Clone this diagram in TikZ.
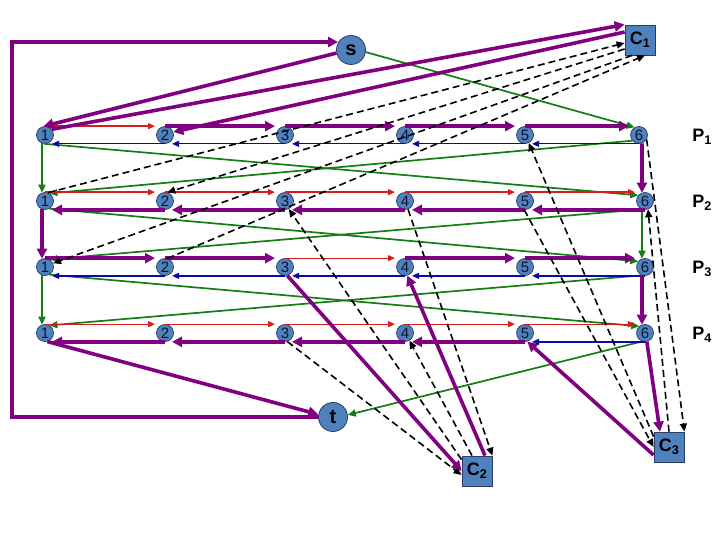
\documentclass[tikz,border=0pt]{standalone}
\usepackage{fontspec}
\setmainfont{Liberation Sans}
\usetikzlibrary{arrows.meta}
\definecolor{pur}{RGB}{128,0,128}
\definecolor{grn}{RGB}{20,125,20}
\definecolor{rd}{RGB}{215,30,30}
\definecolor{bl}{RGB}{10,10,170}
\definecolor{nfill}{RGB}{79,129,189}
\definecolor{nline}{RGB}{40,60,100}
\definecolor{ntext}{RGB}{15,20,45}
\begin{document}
\begin{tikzpicture}[x=1pt,y=-1pt,
  vx/.style={circle,fill=nfill,draw=nline,line width=0.7pt,minimum size=17pt,inner sep=0pt,text=ntext,font=\fontsize{15}{15}\selectfont},
  big/.style={circle,fill=nfill,draw=nline,line width=0.8pt,minimum size=29pt,inner sep=0pt,font=\fontsize{20}{20}\selectfont\bfseries},
  cl/.style={rectangle,fill=nfill,draw=nline,line width=0.8pt,minimum width=30pt,minimum height=30pt,inner sep=0pt,font=\fontsize{18}{18}\selectfont\bfseries},
  plab/.style={font=\fontsize{18}{18}\selectfont\bfseries,inner sep=0pt},
  pth/.style={draw=pur,line width=3.6pt,-{Triangle[length=10pt,width=10pt]}},
  grl/.style={draw=grn,line width=1.7pt,-{Triangle[length=8pt,width=7pt]}},
  redl/.style={draw=rd,line width=1.3pt,-{Triangle[length=7pt,width=6pt]}},
  bll/.style={draw=bl,line width=1.3pt,-{Triangle[length=7pt,width=6pt]}},
  dsh/.style={draw=black,line width=1.6pt,dash pattern=on 7pt off 4pt,-{Triangle[length=8pt,width=7pt]}}
]
\useasboundingbox (0,0) rectangle (720,540);
% nodes
\node[big] (s) at (351,50) {s};
\node[big] (t) at (333,417) {t};
\node[cl] (C1) at (640,40) {C\textsubscript{1}};
\node[cl] (C2) at (477,471) {C\textsubscript{2}};
\node[cl] (C3) at (669,447) {C\textsubscript{3}};
\foreach \r/\y in {1/135,2/201,3/267,4/333}{
  \foreach \c/\x in {1/45,2/165,3/285,4/405,5/525}{
    \node[vx] (n\r\c) at (\x,\y) {\c};
  }
}
\node[vx] (n16) at (639,135) {6};
\node[vx] (n26) at (645,201) {6};
\node[vx] (n36) at (645,267) {6};
\node[vx] (n46) at (645,333) {6};
\node[plab] (l1) at (702,137) {P\textsubscript{1}};
\node[plab] (l2) at (702,203) {P\textsubscript{2}};
\node[plab] (l3) at (702,269) {P\textsubscript{3}};
\node[plab] (l4) at (702,335) {P\textsubscript{4}};
\coordinate (lc) at (12,42);

% green edges
\draw[grl] (s.-8) -- (n16.120);
\draw[grl] (n11.250) -- (n21.110);
\draw[grl] (n26.250) -- (n36.110);
\draw[grl] (n31.250) -- (n41.110);
\draw[grl] (n11.-95) -- (n26.140);
\draw[grl] (n16.220) -- (n21.60);
\draw[grl] (n21.-60) -- (n36.140);
\draw[grl] (n26.-110) -- (n31.60);
\draw[grl] (n31.-60) -- (n46.130);
\draw[grl] (n36.-110) -- (n41.60);
\draw[grl] (n46.252) -- (t.8);

% top lanes
\draw[redl] (n11.north) -- ([xshift=-10pt]n12.north);
\draw[pth] (n12.north) -- ([xshift=-10pt]n13.north);
\draw[pth] (n13.north) -- ([xshift=-10pt]n14.north);
\draw[pth] (n14.north) -- ([xshift=-10pt]n15.north);
\draw[pth] (n15.north) -- ([xshift=-10pt]n16.north);
\draw[redl] (n21.north) -- ([xshift=-10pt]n22.north);
\draw[redl] (n22.north) -- ([xshift=-10pt]n23.north);
\draw[redl] (n23.north) -- ([xshift=-10pt]n24.north);
\draw[redl] (n24.north) -- ([xshift=-10pt]n25.north);
\draw[redl] (n25.north) -- ([xshift=-10pt]n26.north);
\draw[pth] (n31.north) -- ([xshift=-10pt]n32.north);
\draw[pth] (n32.north) -- ([xshift=-10pt]n33.north);
\draw[redl] (n33.north) -- ([xshift=-10pt]n34.north);
\draw[pth] (n34.north) -- ([xshift=-10pt]n35.north);
\draw[pth] (n35.north) -- ([xshift=-10pt]n36.north);
\draw[redl] (n41.north) -- ([xshift=-10pt]n42.north);
\draw[redl] (n42.north) -- ([xshift=-10pt]n43.north);
\draw[redl] (n43.north) -- ([xshift=-10pt]n44.north);
\draw[redl] (n44.north) -- ([xshift=-10pt]n45.north);
\draw[redl] (n45.north) -- ([xshift=-10pt]n46.north);

% bottom lanes
\draw[bll] (n12.south) -- ([xshift=7pt]n11.south);
\draw[bll] (n13.south) -- ([xshift=7pt]n12.south);
\draw[bll] (n14.south) -- ([xshift=7pt]n13.south);
\draw[bll] (n15.south) -- ([xshift=7pt]n14.south);
\draw[bll] (n16.south) -- ([xshift=7pt]n15.south);
\draw[pth] (n22.south) -- ([xshift=7pt]n21.south);
\draw[pth] (n23.south) -- ([xshift=7pt]n22.south);
\draw[pth] (n24.south) -- ([xshift=7pt]n23.south);
\draw[pth] (n25.south) -- ([xshift=7pt]n24.south);
\draw[pth] (n26.south) -- ([xshift=7pt]n25.south);
\draw[bll] (n32.south) -- ([xshift=7pt]n31.south);
\draw[bll] (n33.south) -- ([xshift=7pt]n32.south);
\draw[bll] (n34.south) -- ([xshift=7pt]n33.south);
\draw[bll] (n35.south) -- ([xshift=7pt]n34.south);
\draw[bll] (n36.south) -- ([xshift=7pt]n35.south);
\draw[pth] (n42.south) -- ([xshift=7pt]n41.south);
\draw[pth] (n43.south) -- ([xshift=7pt]n42.south);
\draw[pth] (n44.south) -- ([xshift=7pt]n43.south);
\draw[pth] (n45.south) -- ([xshift=7pt]n44.south);
\draw[bll] (n46.south) -- ([xshift=7pt]n45.south);

% dashed clause edges
\draw[dsh] (n21.70) -- ([yshift=-3pt]C1.west);
\draw[dsh] ([yshift=-9pt]C1.west) -- (n22.75);
\draw[dsh] (n32.75) -- ([xshift=5pt]C1.south);
\draw[dsh] ([xshift=-8pt]C1.south) -- (n31.25);
\draw[dsh] (n24.-70) -- (C2.north east);
\draw[dsh] ([yshift=-4pt]C2.north west) -- (n23.-65);
\draw[dsh] (n43.-75) -- ([yshift=-4pt]C2.west);
\draw[dsh] ([xshift=-5pt]C2.north) -- (n44.-60);
\draw[dsh] (n16.-30) -- (C3.north east);
\draw[dsh] ([yshift=-5pt]C3.north west) -- (n15.-65);
\draw[dsh] (n25.-95) -- (C3.west);
\draw[dsh] (C3.north) -- (n26.-70);

% purple path
\draw[pth] (t.west) -| (lc) -- (lc -| s.150);
\draw[pth] (s.192) -- (n11.100);
\draw[pth] (n11.40) -- (C1.north west);
\draw[pth] ([yshift=8pt]C1.west) -- (n12.20);
\draw[pth] (n16.-70) -- (n26.110);
\draw[pth] (n21.250) -- (n31.110);
\draw[pth] (n33.-75) -- (C2.west);
\draw[pth] ([xshift=8pt]C2.north) -- (n34.-75);
\draw[pth] (n36.250) -- (n46.110);
\draw[pth] (n46.-78) -- ([xshift=-9pt]C3.north);
\draw[pth] ([yshift=-8pt]C3.west) -- (n45.-75);
\draw[pth] (n41.-75) -- (t.170);
\end{tikzpicture}
\end{document}
